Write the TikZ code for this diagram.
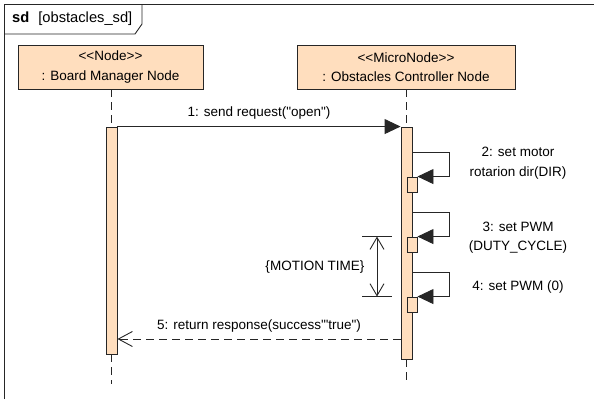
\documentclass[tikz,border=0pt]{standalone}
\usepackage{fontspec}
\setmainfont{Liberation Sans}[Ligatures=TeXOff]
\usepackage{tikz}
\usetikzlibrary{arrows.meta, calc}
\definecolor{peach}{RGB}{255,222,190}
\tikzstyle{line} = [line width=0.9pt, draw=black!85]
\tikzstyle{lifehead} = [line, fill=peach, align=center, inner sep=0pt]
\tikzstyle{bar} = [line, fill=peach, minimum width=11pt, inner sep=0pt]
\tikzstyle{actbox} = [line, fill=peach, minimum width=10pt, minimum height=15pt, inner sep=0pt]
\tikzstyle{lifeline} = [line, dash pattern=on 8pt off 5pt]
\tikzstyle{call} = [line, -{Triangle[length=16pt,width=15pt]}]
\tikzstyle{reply} = [line, dash pattern=on 8pt off 5pt, -{Straight Barb[length=14pt,width=15pt]}]
\tikzstyle{span} = [line, {Straight Barb[length=12pt,width=14pt]}-{Straight Barb[length=12pt,width=14pt]}]

\begin{document}
\begin{tikzpicture}[x=1pt, y=-1pt,
every node/.style={font=\fontsize{13.5}{19.5}\selectfont}]
\useasboundingbox (0,0) rectangle (594,399);
% frame
\draw[line] (4,399) -- (4,4) -- (594,4);
\draw[line] (4,34) -- (135,34) -- (142,24) -- (142,4);
\node[anchor=west, inner sep=0pt, font=\fontsize{14.7}{17}\selectfont] (frame) at (12,19)
  {\textbf{sd}\hspace{9pt}[obstacles\_sd]};

% lifelines
\node[lifehead, minimum width=185pt, minimum height=44pt] (board) at (110.5,67)
  {<<Node>>\\: Board Manager Node};
\node[lifehead, minimum width=218pt, minimum height=44pt] (obst) at (406,67)
  {<<MicroNode>>\\: Obstacles Controller Node};
\node[bar, minimum height=227pt] (barA) at (111.5,240.5) {};
\node[bar, minimum height=232pt] (barB) at (406.5,243) {};
\coordinate (endA) at (111.5,384);
\coordinate (endB) at (406.5,384);
\draw[lifeline] (board.south -| barA) -- (barA.north);
\draw[lifeline] (barA.south) -- (endA);
\draw[lifeline] (obst.south -| barB) -- (barB.north);
\draw[lifeline] (barB.south) -- (endB);

% self calls
\node[actbox] (act2) at (412,184.5) {};
\node[actbox] (act3) at (412,244.5) {};
\node[actbox] (act4) at (412,304.5) {};

% messages
\draw[call] (barA.north east) -- (barB.north west)
  node[midway, above=3pt] {1: send request("open")};
\draw[call] ($(barB.east |- act2.north)+(0,-24)$) -- ++(37,0) |- (act2.north east);
\draw[call] ($(barB.east |- act3.north)+(0,-24)$) -- ++(37,0) |- (act3.north east);
\draw[call] ($(barB.east |- act4.north)+(0,-24)$) -- ++(37,0) |- (act4.north east);
\node[align=center] (lab2) at (518,163) {2: set motor\\rotarion dir(DIR)};
\node[align=center] (lab3) at (518,237.5) {3: set PWM\\(DUTY\_CYCLE)};
\node (lab4) at (518,287) {4: set PWM (0)};
\draw[reply] (barB.west |- 0,339) -- (barA.east |- 0,339)
  node[midway, above=3pt] {5: return response(success\textquotesingle"true")};

% motion time
\coordinate (mt1) at (act3.north -| 377,0);
\coordinate (mt2) at (act4.north -| 377,0);
\draw[line] ($(mt1)+(-15,0)$) -- ++(30,0);
\draw[line] ($(mt2)+(-15,0)$) -- ++(30,0);
\draw[span] (mt1) -- (mt2);
\node (mtime) at (315,267) {\{MOTION TIME\}};
\end{tikzpicture}
\end{document}
